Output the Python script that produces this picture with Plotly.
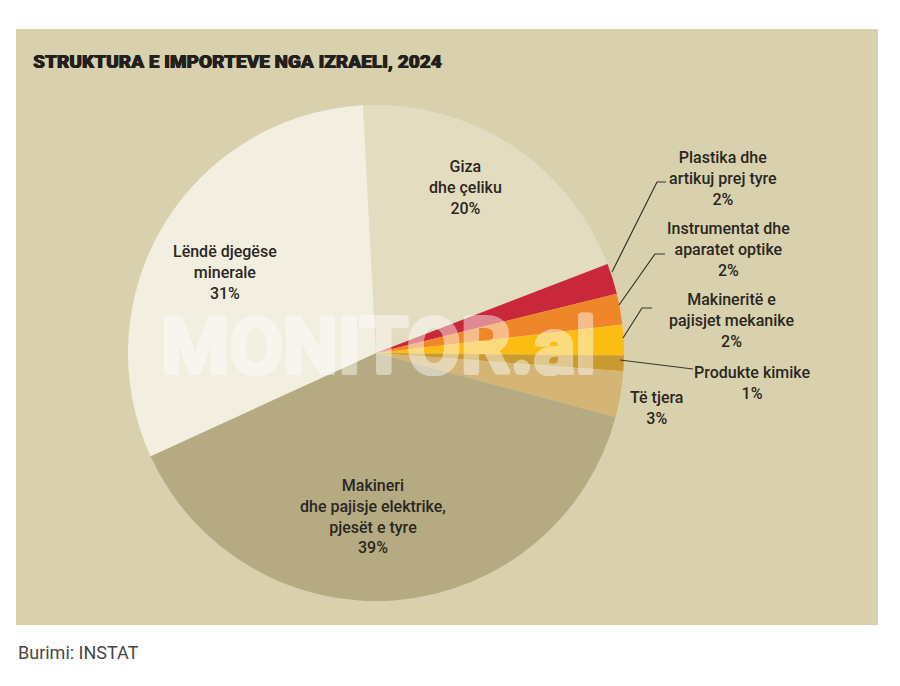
import plotly.graph_objects as go

# ---- data ----
categories = ["Giza dhe çeliku", "Plastika dhe artikuj prej tyre",
              "Instrumentat dhe aparatet optike", "Makineritë e pajisjet mekanike",
              "Produkte kimike", "Të tjera",
              "Makineri dhe pajisje elektrike, pjesët e tyre",
              "Lëndë djegëse minerale"]
label_lines = ["Giza<br>dhe çeliku", "Plastika dhe<br>artikuj prej tyre",
               "Instrumentat dhe<br>aparatet optike", "Makineritë e<br>pajisjet mekanike",
               "Produkte kimike", "Të tjera",
               "Makineri<br>dhe pajisje elektrike,<br>pjesët e tyre",
               "Lëndë djegëse<br>minerale"]
values = [20, 2, 2, 2, 1, 3, 39, 31]
colors = ["#e4dcc0", "#c8283a", "#f0862a", "#fbbd14", "#c99a30",
          "#d4b576", "#b5aa82", "#f2eee0"]

W, H = 900, 686
def px(x): return x / W
def py(y): return 1 - y / H

BG = "#d9d1ae"
TXT = "#2b2722"
FONT = "Roboto, sans-serif"

fig = go.Figure()
cx, cy, r = 376, 353, 248
fig.add_trace(go.Pie(
    labels=categories, values=values, sort=False, direction="clockwise",
    rotation=-3, marker=dict(colors=colors, line=dict(width=0)),
    textinfo="none", hoverinfo="label+percent", showlegend=False,
    domain=dict(x=[px(cx - r), px(cx + r)], y=[py(cy + r), py(cy - r)]),
))

shapes = [dict(type="rect", xref="paper", yref="paper", layer="below",
               x0=px(16), x1=px(878), y0=py(625), y1=py(29),
               fillcolor=BG, line=dict(width=0))]

# leader lines (pixel positions)
leaders = [
    [(612, 272), (657, 182), (666, 182)],
    [(619, 305), (655, 254), (665, 254)],
    [(623, 338), (642, 308), (652, 308)],
    [(620, 360), (693, 369)],
]
for pts in leaders:
    path = "M " + " L ".join(f"{px(x)},{py(y)}" for x, y in pts)
    shapes.append(dict(type="path", xref="paper", yref="paper", path=path,
                       line=dict(color="#3a352e", width=1.2), layer="above"))

annotations = []
# watermark (thickened with text shadows, whole group made translucent)
wm_shadow = ("2px 0 0 #ffffff, -2px 0 0 #ffffff, 0 2px 0 #ffffff, 0 -2px 0 #ffffff, "
             "1.5px 1.5px 0 #ffffff, -1.5px -1.5px 0 #ffffff, 1.5px -1.5px 0 #ffffff, -1.5px 1.5px 0 #ffffff")
annotations.append(dict(x=px(378), y=py(346), xref="paper", yref="paper",
                        xanchor="center", yanchor="middle", opacity=0.45,
                        text="<b>MONITOR.al</b>", showarrow=False,
                        font=dict(family="Roboto, sans-serif", size=78,
                                  weight=900, color="#ffffff", shadow=wm_shadow)))

label_pos = [(465, 187), (723, 179), (728, 249), (731, 320), (752, 383),
             (656, 408), (373, 516), (225, 272)]
for lab, v, (x, y) in zip(label_lines, values, label_pos):
    annotations.append(dict(x=px(x), y=py(y), xref="paper", yref="paper",
                            xanchor="center", yanchor="middle",
                            text=f"{lab}<br>{v}%", showarrow=False,
                            font=dict(family=FONT, size=16, weight=500, color=TXT)))

annotations.append(dict(x=px(31), y=py(61), xref="paper", yref="paper",
                        xanchor="left", yanchor="middle",
                        text="STRUKTURA E IMPORTEVE NGA IZRAELI, 2024",
                        showarrow=False,
                        font=dict(family=FONT, size=19, weight=900, color="#231f1c",
                                  shadow="0.6px 0 0 #231f1c, -0.3px 0 0 #231f1c")))
annotations.append(dict(x=px(16), y=py(652), xref="paper", yref="paper",
                        xanchor="left", yanchor="middle",
                        text="Burimi: INSTAT", showarrow=False,
                        font=dict(family="Roboto, sans-serif", size=18, color="#474747")))

fig.update_layout(width=W, height=H, margin=dict(l=0, r=0, t=0, b=0),
                  paper_bgcolor="white", plot_bgcolor="white",
                  shapes=shapes, annotations=annotations)
fig.write_html("out.html")
